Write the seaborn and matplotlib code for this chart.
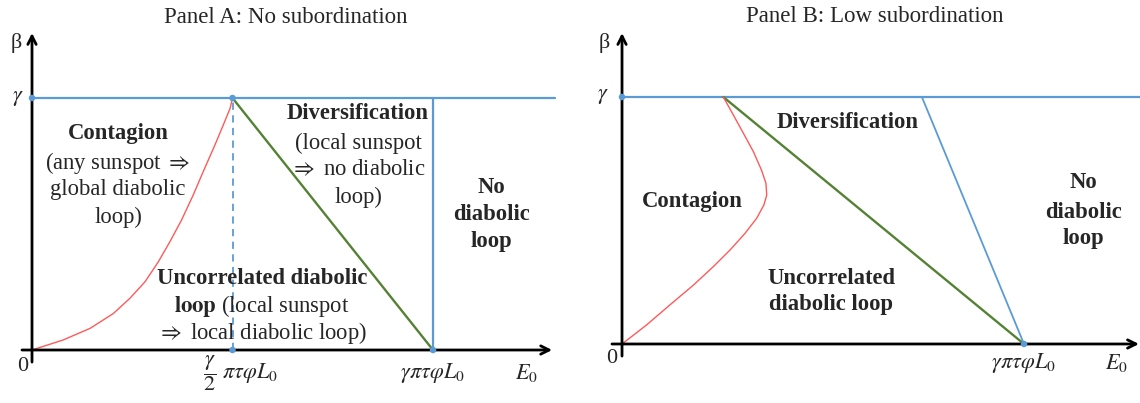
import matplotlib
matplotlib.use("Agg")
import matplotlib.pyplot as plt
import seaborn as sns
import pandas as pd

# ---------------- data (x in units of gamma*pi*tau*phi*L0, y in units of gamma) -------------
gamma_level = 1.0
threshold_x = 1.0

# Panel A: No subordination
a_red_x = [0.0, 0.078, 0.145, 0.203, 0.244, 0.282, 0.315, 0.344, 0.373, 0.402, 0.427, 0.456, 0.477, 0.494, 0.5]
a_red_y = [0.0, 0.040, 0.086, 0.145, 0.205, 0.271, 0.350, 0.430, 0.516, 0.615, 0.708, 0.813, 0.893, 0.959, 1.0]
a_green_x = [0.5, 1.0]
a_green_y = [1.0, 0.0]
a_blue_x = [1.0, 1.0]
a_blue_y = [0.0, 1.0]
a_dash_x = [0.5, 0.5]
a_dash_y = [0.0, 1.0]
a_dots_x = [0.0, 0.5, 0.5, 1.0]
a_dots_y = [1.0, 1.0, 0.0, 0.0]

# Panel B: Low subordination
b_red_x = [0.0, 0.061, 0.119, 0.178, 0.227, 0.269, 0.306, 0.335, 0.353, 0.360, 0.358, 0.347, 0.327, 0.302, 0.277, 0.252]
b_red_y = [0.0, 0.077, 0.158, 0.239, 0.313, 0.381, 0.448, 0.509, 0.563, 0.603, 0.651, 0.704, 0.778, 0.853, 0.927, 1.0]
b_green_x = [0.252, 1.0]
b_green_y = [1.0, 0.0]
b_blue_x = [0.746, 1.0]
b_blue_y = [1.0, 0.0]
b_dots_x = [0.0, 1.0]
b_dots_y = [1.0, 0.0]

titles = ["Panel A: No subordination", "Panel B: Low subordination"]
a_xtick_labels = [r"$\dfrac{\gamma}{2}\ \pi\tau\varphi L_0$", r"$\gamma\pi\tau\varphi L_0$"]
b_xtick_labels = [r"$\gamma\pi\tau\varphi L_0$"]

# ---------------- style ----------------
sns.set_theme(style="white")
plt.rcParams["font.family"] = ["Liberation Serif", "DejaVu Serif"]
plt.rcParams["mathtext.fontset"] = "stix"

BLUE = "#5B9BD5"
GREEN = "#548235"
RED = "#FF5A5A"
FS = 16.3

fig = plt.figure(figsize=(11.4, 4.03), dpi=100)
axA = fig.add_axes([0.0, 0.0, 0.5, 1.0])
axB = fig.add_axes([0.5, 0.0, 0.5, 1.0])

axA.set_xlim(-0.0798, 1.3416)
axA.set_ylim(-0.2103, 1.3889)
axB.set_xlim(-0.1294, 1.2886)
axB.set_ylim(-0.2389, 1.3927)
for ax in (axA, axB):
    ax.axis("off")


def line(ax, xs, ys, color, lw, ls="-", z=2):
    df = pd.DataFrame({"x": xs, "y": ys})
    sns.lineplot(data=df, x="x", y="y", ax=ax, color=color, lw=lw, ls=ls,
                 sort=False, estimator=None, zorder=z, legend=False)


def dots(ax, xs, ys):
    df = pd.DataFrame({"x": xs, "y": ys})
    sns.scatterplot(data=df, x="x", y="y", ax=ax, color=BLUE, s=22,
                    edgecolor="none", zorder=6, legend=False)


def axes_arrows(ax, xmin, xmax, ymin, ymax):
    props = dict(arrowstyle="->,head_length=0.5,head_width=0.25",
                 lw=2.0, color="black", shrinkA=0, shrinkB=0)
    ax.annotate("", xy=(xmax, 0), xytext=(xmin, 0), arrowprops=props, zorder=5)
    ax.annotate("", xy=(0, ymax), xytext=(0, ymin), arrowprops=props, zorder=5)


def T(ax, x, y, s, bold=False, size=FS, **kw):
    ax.text(x, y, s, ha=kw.pop("ha", "center"), va=kw.pop("va", "center"),
            fontsize=size, fontweight="bold" if bold else "normal", **kw)


# ---------------- Panel A ----------------
line(axA, [0.0, 1.304], [gamma_level, gamma_level], BLUE, 1.6)
line(axA, a_dash_x, a_dash_y, BLUE, 1.3, ls=(0, (4, 3)))
line(axA, a_blue_x, a_blue_y, BLUE, 1.6)
line(axA, a_green_x, a_green_y, GREEN, 1.7)
line(axA, a_red_x, a_red_y, RED, 1.0)
dots(axA, a_dots_x, a_dots_y)
axes_arrows(axA, -0.025, 1.297, -0.048, 1.258)

T(axA, 0.633, 1.321, titles[0], size=16.5)
T(axA, -0.040, 1.218, "β", size=16)
T(axA, -0.036, 1.0, r"$\gamma$", size=16)
T(axA, -0.024, -0.067, "0", size=16)
T(axA, 0.519, -0.093, a_xtick_labels[0], size=16)
T(axA, threshold_x, -0.091, a_xtick_labels[1], size=16)
T(axA, 1.232, -0.091, r"$E_0$", size=16)

T(axA, 0.2145, 0.861, "Contagion", bold=True)
T(axA, 0.2145, 0.742, r"(any sunspot ${\Rightarrow}$")
T(axA, 0.2145, 0.635, "global diabolic")
T(axA, 0.2145, 0.528, "loop)")

T(axA, 0.813, 0.940, "Diversification", bold=True)
T(axA, 0.813, 0.821, "(local sunspot")
T(axA, 0.813, 0.714, r"${\Rightarrow}$ no diabolic")
T(axA, 0.813, 0.607, "loop)")

T(axA, 1.145, 0.643, "No", bold=True)
T(axA, 1.145, 0.536, "diabolic", bold=True)
T(axA, 1.145, 0.429, "loop", bold=True)

T(axA, 0.574, 0.282, "Uncorrelated diabolic", bold=True)
T(axA, 0.574, 0.175, r"$\mathbf{loop}$ (local sunspot")
T(axA, 0.574, 0.067, r"${\Rightarrow}$ local diabolic loop)")

# ---------------- Panel B ----------------
line(axB, [0.0, 1.289], [gamma_level, gamma_level], BLUE, 1.6)
line(axB, b_blue_x, b_blue_y, BLUE, 1.3)
line(axB, b_green_x, b_green_y, GREEN, 1.7)
line(axB, b_red_x, b_red_y, RED, 1.0)
dots(axB, b_dots_x, b_dots_y)
axes_arrows(axB, -0.025, 1.286, -0.049, 1.259)

T(axB, 0.629, 1.324, titles[1], size=16.5)
T(axB, -0.045, 1.219, "β", size=16)
T(axB, -0.047, 1.0, r"$\gamma$", size=16)
T(axB, -0.025, -0.057, "0", size=16)
T(axB, threshold_x, -0.077, b_xtick_labels[0], size=16)
T(axB, 1.231, -0.077, r"$E_0$", size=16)

T(axB, 0.174, 0.575, "Contagion", bold=True)
T(axB, 0.562, 0.895, "Diversification", bold=True)
T(axB, 1.147, 0.652, "No", bold=True)
T(axB, 1.147, 0.534, "diabolic", bold=True)
T(axB, 1.147, 0.429, "loop", bold=True)
T(axB, 0.520, 0.267, "Uncorrelated", bold=True)
T(axB, 0.520, 0.158, "diabolic loop", bold=True)

fig.savefig("out.png", dpi=100)
